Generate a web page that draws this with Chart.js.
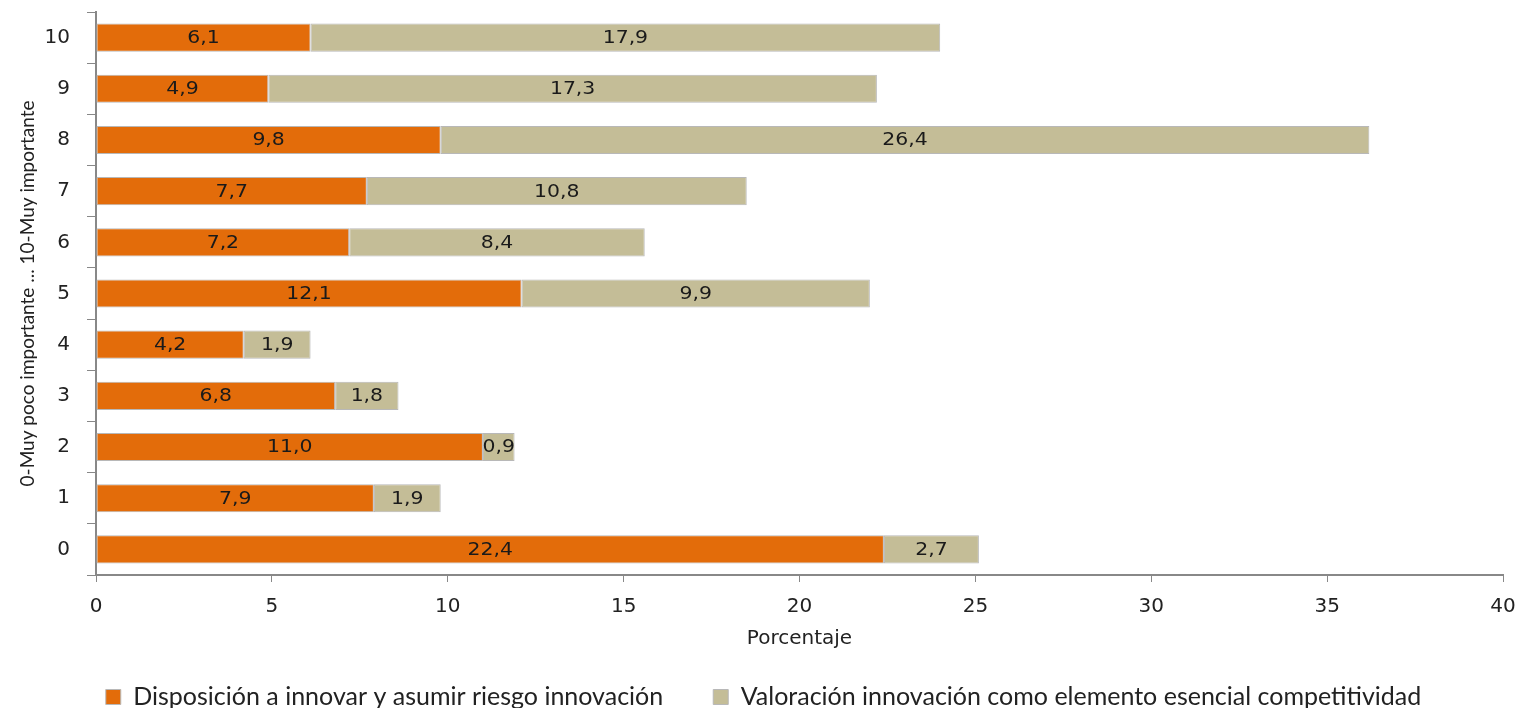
<!DOCTYPE html>
<html>
<head>
<meta charset="utf-8">
<script src="https://cdn.jsdelivr.net/npm/chart.js@4/dist/chart.umd.min.js"></script>
<style>
html,body{margin:0;padding:0;background:#fff;}
#wrap{width:1518px;height:708px;position:relative;}
</style>
</head>
<body>
<div id="wrap"><canvas id="c" width="1518" height="708"></canvas></div>
<script>
const categories = ['10','9','8','7','6','5','4','3','2','1','0'];
const disposicion = [6.1, 4.9, 9.8, 7.7, 7.2, 12.1, 4.2, 6.8, 11.0, 7.9, 22.4];
const valoracion = [17.9, 17.3, 26.4, 10.8, 8.4, 9.9, 1.9, 1.8, 0.9, 1.9, 2.7];
const seriesNames = ['Disposición a innovar y asumir riesgo innovación', 'Valoración innovación como elemento esencial competitividad'];
const xTitle = 'Porcentaje';
const yTitle = '0-Muy poco importante ... 10-Muy importante';

const axisColor = '#888888';
const tickFont = { family: "'DejaVu Sans', Verdana, sans-serif", size: 20 };

const labelPlugin = {
  id: 'barLabels',
  afterDatasetsDraw(chart) {
    const ctx = chart.ctx;
    chart.data.datasets.forEach((ds, di) => {
      const meta = chart.getDatasetMeta(di);
      meta.data.forEach((bar, i) => {
        const v = ds.data[i];
        const cx = (bar.x + bar.base) / 2;
        ctx.save();
        ctx.translate(cx, bar.y + 1);
        ctx.scale(1.2, 1);
        ctx.font = "17px 'DejaVu Sans', Verdana, sans-serif";
        ctx.fillStyle = '#1a1a1a';
        ctx.textAlign = 'center';
        ctx.textBaseline = 'middle';
        ctx.fillText(v.toFixed(1).replace('.', ','), 0, 0);
        ctx.restore();
      });
    });
  }
};

new Chart(document.getElementById('c'), {
  type: 'bar',
  data: {
    labels: categories,
    datasets: [
      { label: seriesNames[0], data: disposicion, backgroundColor: '#E36C0A', borderColor: '#b8b8b8', borderWidth: 1, borderSkipped: false },
      { label: seriesNames[1], data: valoracion, backgroundColor: '#C4BD97', borderColor: '#b8b8b8', borderWidth: 1, borderSkipped: false }
    ]
  },
  options: {
    indexAxis: 'y',
    responsive: false,
    animation: false,
    layout: { padding: { top: 12, right: 15, left: 24, bottom: -11.5 } },
    datasets: { bar: { barPercentage: 0.55, categoryPercentage: 1.0 } },
    scales: {
      x: {
        stacked: true,
        min: 0, max: 40,
        ticks: { stepSize: 5, color: '#222', font: tickFont, padding: 13 },
        grid: { drawOnChartArea: false, color: axisColor, tickLength: 7 },
        border: { color: axisColor, width: 2 },
        title: { display: true, text: xTitle, color: '#222', font: tickFont, padding: { top: 0, bottom: -16.5 } },
        afterFit(s) { s.height = 59.5; s.paddingLeft = 0; s.paddingRight = 0; }
      },
      y: {
        stacked: true,
        ticks: { color: '#222', font: tickFont, padding: 17 },
        grid: { drawOnChartArea: false, color: axisColor, tickLength: 9, offset: true },
        border: { color: axisColor, width: 2 },
        title: { display: true, text: yTitle, color: '#222', font: { family: 'Lato', size: 19 }, padding: { top: -8, bottom: 0 } },
        afterFit(s) { s.width = 72; s.paddingTop = 0; s.paddingBottom = 0; }
      }
    },
    plugins: {
      legend: {
        position: 'bottom',
        labels: { color: '#222', font: { family: 'Lato', size: 25 }, boxWidth: 15, boxHeight: 15, padding: 50 },
        onClick: null
      },
      tooltip: { enabled: false }
    }
  },
  plugins: [labelPlugin]
});
</script>
</body>
</html>
